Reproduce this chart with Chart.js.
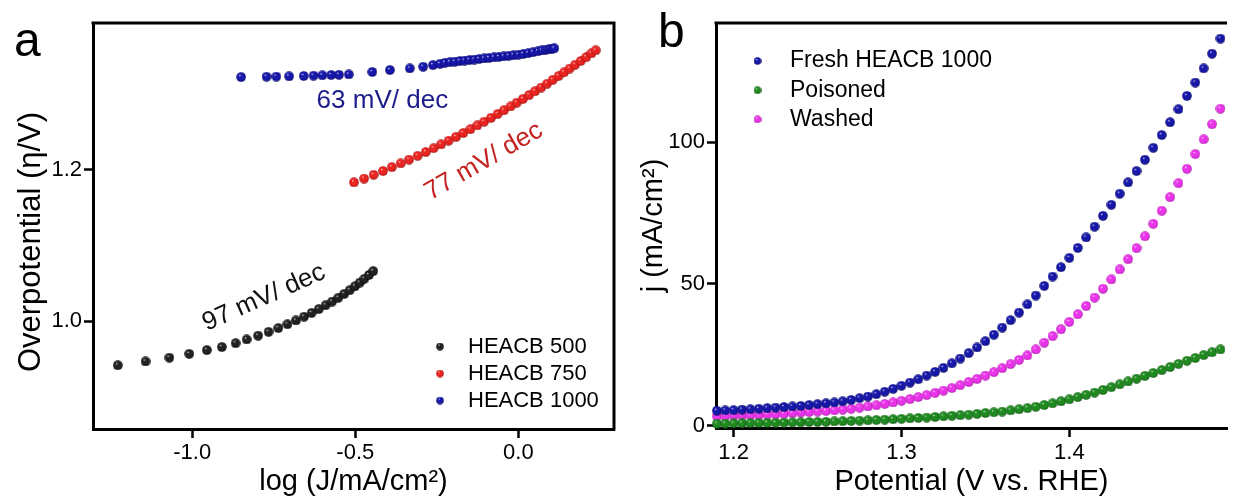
<!DOCTYPE html>
<html>
<head>
<meta charset="utf-8">
<script src="https://cdn.jsdelivr.net/npm/chart.js@4.4.1/dist/chart.umd.min.js"></script>
<style>
  html, body { margin: 0; padding: 0; background: #fff; width: 1233px; height: 503px; overflow: hidden; }
  canvas { position: absolute; top: 0; }
  #ca { left: 0; }
  #cb { left: 620px; }
</style>
</head>
<body>
<canvas id="ca" width="620" height="503"></canvas>
<canvas id="cb" width="613" height="503"></canvas>
<script>
"use strict";

/* panel a — Tafel plots, log(J) vs overpotential */
const A500_X = [-1.228, -1.143, -1.070, -1.009, -0.955, -0.909, -0.867, -0.833,
  -0.798, -0.766, -0.736, -0.708, -0.682, -0.657, -0.634, -0.612, -0.591, -0.571,
  -0.552, -0.534, -0.517, -0.501, -0.486, -0.472, -0.458, -0.445];
const A500_Y = [0.942, 0.947, 0.952, 0.957, 0.962, 0.966, 0.971, 0.976, 0.981,
  0.986, 0.991, 0.996, 1.001, 1.006, 1.011, 1.016, 1.021, 1.026, 1.031, 1.036,
  1.041, 1.046, 1.051, 1.056, 1.061, 1.066];

const A750_X = [-0.504, -0.473, -0.444, -0.415, -0.388, -0.361, -0.335, -0.309,
  -0.284, -0.260, -0.237, -0.214, -0.191, -0.169, -0.147, -0.126, -0.105, -0.084,
  -0.064, -0.044, -0.024, -0.005, 0.014, 0.033, 0.051, 0.070, 0.088, 0.105, 0.123,
  0.140, 0.157, 0.174, 0.191, 0.208, 0.224, 0.237];
const A750_Y = [1.183, 1.188, 1.193, 1.198, 1.203, 1.208, 1.213, 1.218, 1.223,
  1.228, 1.233, 1.238, 1.243, 1.248, 1.253, 1.258, 1.263, 1.268, 1.273, 1.278,
  1.283, 1.288, 1.293, 1.298, 1.303, 1.308, 1.313, 1.318, 1.323, 1.328, 1.333,
  1.338, 1.343, 1.348, 1.353, 1.357];

const A1000_X = [-0.850, -0.772, -0.742, -0.703, -0.658, -0.628, -0.601, -0.574,
  -0.550, -0.520, -0.448, -0.394, -0.333, -0.292, -0.262, -0.240, -0.225, -0.210,
  -0.195, -0.180, -0.165, -0.150, -0.135, -0.120, -0.105, -0.090, -0.075, -0.060,
  -0.045, -0.030, -0.015, 0.000, 0.015, 0.030, 0.045, 0.060, 0.072, 0.084, 0.095,
  0.104, 0.110];
const A1000_Y = [1.3217, 1.3222, 1.3224, 1.3227, 1.3232, 1.3236, 1.3240, 1.3244,
  1.3248, 1.3252, 1.3285, 1.3310, 1.3332, 1.3354, 1.3375, 1.3392, 1.3407, 1.3414,
  1.3421, 1.3428, 1.3435, 1.3442, 1.3449, 1.3456, 1.3463, 1.3470, 1.3477, 1.3484,
  1.3491, 1.3498, 1.3505, 1.3512, 1.3522, 1.3533, 1.3545, 1.3558, 1.3568, 1.3578,
  1.3586, 1.3592, 1.3596];

const A_XTICKS = [-1.0, -0.5, 0.0];
const A_YTICKS = [1.0, 1.2];

/* panel b — polarisation curves, j vs potential */
const POT = [1.190, 1.195, 1.200, 1.205, 1.210, 1.215, 1.220, 1.225, 1.230, 1.235,
  1.240, 1.245, 1.250, 1.255, 1.260, 1.265, 1.270, 1.275, 1.280, 1.285, 1.290,
  1.295, 1.300, 1.305, 1.310, 1.315, 1.320, 1.325, 1.330, 1.335, 1.340, 1.345,
  1.350, 1.355, 1.360, 1.365, 1.370, 1.375, 1.380, 1.385, 1.390, 1.395, 1.400,
  1.405, 1.410, 1.415, 1.420, 1.425, 1.430, 1.435, 1.440, 1.445, 1.450, 1.455,
  1.460, 1.465, 1.470, 1.475, 1.480, 1.485, 1.490];
const FRESH = [5.3, 5.4, 5.5, 5.7, 5.8, 6.0, 6.2, 6.4, 6.6, 6.8, 7.0, 7.3, 7.6, 7.9,
  8.2, 8.6, 9.1, 9.7, 10.3, 11.1, 12.0, 13.0, 14.1, 15.2, 16.4, 17.7, 19.0, 20.4,
  22.0, 23.7, 25.6, 27.6, 29.8, 32.1, 34.6, 37.2, 39.9, 42.8, 45.9, 49.3, 52.6,
  55.9, 59.2, 62.7, 66.4, 70.2, 74.0, 77.9, 81.8, 85.8, 89.8, 93.8, 98.0, 102.5,
  107.0, 111.6, 116.3, 121.0, 126.0, 131.2, 136.5];
const POISONED = [0.7, 0.75, 0.8, 0.85, 0.9, 0.95, 1.0, 1.05, 1.1, 1.15, 1.2, 1.3,
  1.35, 1.4, 1.5, 1.6, 1.7, 1.8, 1.9, 2.0, 2.15, 2.3, 2.45, 2.6, 2.75, 2.9, 3.1,
  3.3, 3.5, 3.7, 3.9, 4.2, 4.5, 4.75, 5.0, 5.4, 5.8, 6.2, 6.7, 7.3, 7.9, 8.6, 9.3,
  10.1, 10.9, 11.7, 12.6, 13.6, 14.6, 15.6, 16.6, 17.6, 18.6, 19.6, 20.7, 21.8,
  22.9, 23.9, 24.9, 25.9, 26.9];
const WASHED = [3.3, 3.4, 3.5, 3.6, 3.7, 3.8, 3.9, 4.0, 4.2, 4.4, 4.6, 4.8, 5.0,
  5.2, 5.4, 5.7, 6.0, 6.4, 6.8, 7.2, 7.7, 8.2, 8.8, 9.4, 10.1, 10.8, 11.6, 12.4,
  13.3, 14.3, 15.4, 16.5, 17.7, 18.9, 20.3, 21.7, 23.2, 24.8, 26.9, 29.3, 31.6,
  34.0, 36.6, 39.3, 42.2, 45.2, 48.3, 51.6, 55.1, 58.7, 62.6, 66.8, 71.2, 75.8,
  80.6, 85.5, 90.6, 95.8, 101.0, 106.3, 111.8];

const B_XTICKS = [1.2, 1.3, 1.4];
const B_YTICKS = [0, 50, 100];

const FONT = "'Liberation Sans', Arial, sans-serif";

/* shaded sphere sprites, like the original plotting program's markers */
function ball(color, dark, d) {
  const c = document.createElement("canvas");
  c.width = c.height = d;
  const g = c.getContext("2d"), r = d / 2;
  const grad = g.createRadialGradient(r * 0.72, r * 0.62, 0, r, r, r);
  grad.addColorStop(0, "#ffffff");
  grad.addColorStop(0.25, color);
  grad.addColorStop(0.75, color);
  grad.addColorStop(1, dark);
  g.fillStyle = grad;
  g.beginPath(); g.arc(r, r, r - 0.2, 0, Math.PI * 2); g.fill();
  return c;
}
const COLORS = {
  k: ["#222222", "#000000"], r: ["#ea2420", "#8a0c0a"], u: ["#1717aa", "#05055a"],
  g: ["#1f8a1f", "#0a4a0a"], m: ["#ea34ea", "#9a109a"],
};
const BIG = {}, SMALL = {};
for (const k in COLORS) {
  BIG[k] = ball(COLORS[k][0], COLORS[k][1], 10);
  SMALL[k] = ball(COLORS[k][0], COLORS[k][1], 8);
}

const pts = (xs, ys) => xs.map((x, i) => ({ x, y: ys[i] }));
const set = (label, data, key) => ({ label, data, pointStyle: BIG[key], legendBall: SMALL[key],
  pointRadius: 5, showLine: false, clip: false });

function axis(o) {
  return {
    type: "linear", min: o.min, max: o.max,
    afterFit: (s) => { if (s.isHorizontal()) s.height = o.size; else s.width = o.size; },
    afterBuildTicks: (s) => { s.ticks = o.ticks.map((v) => ({ value: v })); },
    ticks: { font: { family: FONT, size: 22 }, color: "#000", padding: o.pad,
             maxRotation: 0, autoSkip: false, callback: (v) => v.toFixed(o.dp) },
    grid: { drawOnChartArea: false, drawTicks: true, tickLength: 9, tickWidth: 2.5,
            tickColor: "#000" },
    border: { display: true, color: "#000", width: 3 },
    title: { display: !!o.title, text: o.title || "", color: "#000",
             font: { family: FONT, size: 29 }, padding: o.tpad },
  };
}

/* box edges the axes don't draw, the in-plot legend, slope notes, panel letter */
const extras = {
  id: "extras",
  afterDraw(chart, _a, o) {
    const { ctx, chartArea: a, scales } = chart;
    ctx.save();
    ctx.strokeStyle = "#000"; ctx.lineWidth = 3;
    ctx.beginPath();
    ctx.moveTo(a.left - 1.5, a.top); ctx.lineTo(a.right, a.top);
    if (o.rightEdge) ctx.lineTo(a.right, a.bottom + 1.5);
    ctx.stroke();

    const L = o.legend;
    ctx.font = `${L.size}px ${FONT}`; ctx.fillStyle = "#000";
    ctx.textBaseline = "middle"; ctx.textAlign = "left";
    chart.data.datasets.forEach((ds, i) => {
      const y = L.y + i * L.dy, b = ds.legendBall;
      ctx.drawImage(b, L.x - b.width / 2, y - b.height / 2);
      ctx.fillText(ds.label, L.tx, y);
    });

    ctx.textAlign = "center";
    (o.notes || []).forEach((n) => {
      ctx.save();
      ctx.translate(scales.x.getPixelForValue(n.x), scales.y.getPixelForValue(n.y));
      ctx.rotate(n.angle * Math.PI / 180);
      ctx.font = `26px ${FONT}`; ctx.fillStyle = n.color;
      ctx.fillText(n.text, 0, 0);
      ctx.restore();
    });

    // y title sits lower than the axis middle in the original, so place it by hand
    if (o.yTitle) {
      const t = o.yTitle;
      ctx.save();
      ctx.translate(t.x, t.y); ctx.rotate(-Math.PI / 2);
      ctx.font = `${t.size}px ${FONT}`; ctx.fillStyle = "#000";
      ctx.textAlign = "center"; ctx.textBaseline = "middle";
      ctx.fillText(t.text, 0, 0);
      ctx.restore();
    }

    ctx.textAlign = "left"; ctx.textBaseline = "alphabetic";
    ctx.font = `48px ${FONT}`; ctx.fillStyle = "#000";
    ctx.fillText(o.letter.text, o.letter.x, o.letter.y);
    ctx.restore();
  },
};

const base = (pad, extra) => ({
  responsive: false, animation: false, events: [],
  layout: { padding: pad },
  plugins: { legend: { display: false }, tooltip: { enabled: false }, extras: extra },
});

new Chart(document.getElementById("ca"), {
  type: "scatter",
  data: { datasets: [
    set("HEACB 500", pts(A500_X, A500_Y), "k"),
    set("HEACB 750", pts(A750_X, A750_Y), "r"),
    set("HEACB 1000", pts(A1000_X, A1000_Y), "u"),
  ] },
  options: Object.assign(base({ top: 23, right: 3, left: 0, bottom: 0 }, {
    rightEdge: true,
    legend: { x: 440, y: 346.5, dy: 27, tx: 468, size: 22 },
    notes: [
      { text: "63 mV/ dec", x: -0.417, y: 1.291, angle: 0, color: "#1c1c8c" },
      { text: "77 mV/ dec", x: -0.106, y: 1.2105, angle: -30, color: "#c42320" },
      { text: "97 mV/ dec", x: -0.780, y: 1.031, angle: -24, color: "#111" },
    ],
    yTitle: { text: "Overpotential (η/V)", x: 31, y: 242, size: 31 },
    letter: { text: "a", x: 14, y: 56 },
  }), {
    scales: {
      x: axis({ min: -1.304, max: 0.293, ticks: A_XTICKS, dp: 1, size: 74, pad: 2,
                title: "log (J/mA/cm²)", tpad: { top: 0, bottom: 4 } }),
      y: axis({ min: 0.858, max: 1.393, ticks: A_YTICKS, dp: 1, size: 93, pad: 2 }),
    },
  }),
  plugins: [extras],
});

new Chart(document.getElementById("cb"), {
  type: "scatter",
  data: { datasets: [
    set("Fresh HEACB 1000", pts(POT, FRESH), "u"),
    set("Poisoned", pts(POT, POISONED), "g"),
    set("Washed", pts(POT, WASHED), "m"),
  ] },
  options: Object.assign(base({ top: 23, right: 0, left: 0, bottom: 0 }, {
    rightEdge: false,
    legend: { x: 137.5, y: 61, dy: 29.2, tx: 170, size: 23 },
    letter: { text: "b", x: 38, y: 47 },
  }), {
    scales: {
      x: axis({ min: 1.1895, max: 1.4939, ticks: B_XTICKS, dp: 1, size: 75, pad: 3,
                title: "Potential (V vs. RHE)", tpad: { top: 0, bottom: 4 } }),
      y: axis({ min: -0.8, max: 142, ticks: B_YTICKS, dp: 0, size: 96, pad: 2,
                title: "j (mA/cm²)", tpad: { top: 17, bottom: 0 } }),
    },
  }),
  plugins: [extras],
});
</script>
</body>
</html>
